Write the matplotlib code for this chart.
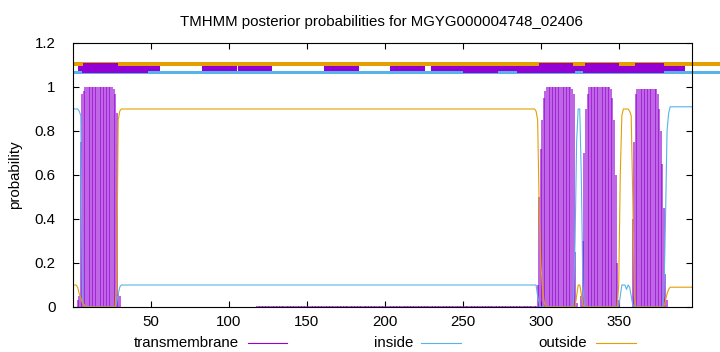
import numpy as np
import matplotlib
matplotlib.use('Agg')
import matplotlib.pyplot as plt

plt.rcParams['font.family'] = ['Liberation Sans', 'DejaVu Sans']

title = 'TMHMM posterior probabilities for MGYG000004748_02406'
seq_len = 397

# posterior probabilities per residue
tm = ([0.0]*2 + [0.03, 0.05, 0.75, 0.97, 0.98] + [1.0]*18
      + [0.99, 0.97, 0.88, 0.06, 0.05] + [0.0]*87 + [0.004]*180
      + [0.1, 0.5, 0.72, 0.85, 0.95, 0.98] + [1.0]*16
      + [0.99, 0.97, 0.25, 0.02, 0.0, 0.0, 0.05]
      + [0.3, 0.7, 0.9, 0.97] + [1.0]*14
      + [0.99, 0.95, 0.85, 0.6, 0.2, 0.03] + [0.0]*8
      + [0.4, 0.75, 0.97] + [0.99]*13
      + [0.97, 0.9, 0.8, 0.65, 0.45, 0.15, 0.03] + [0.0]*16)
inside = ([0.9]*3 + [0.89, 0.87, 0.03, 0.01] + [0.0]*20 + [0.02, 0.06, 0.09]
          + [0.1]*266 + [0.1, 0.05, 0.02, 0.0] + [0.0]*20
          + [0.02, 0.3, 0.75, 0.9, 0.9, 0.6, 0.1, 0.0] + [0.0]*22
          + [0.05, 0.1, 0.1, 0.1, 0.08, 0.1, 0.09, 0.05, 0.01] + [0.0]*19
          + [0.05, 0.4, 0.8, 0.88] + [0.91]*15)
outside = ([0.1]*2 + [0.09, 0.06, 0.04, 0.02, 0.01] + [0.0]*20 + [0.1, 0.85, 0.89]
           + [0.9]*266 + [0.89, 0.85, 0.45, 0.2, 0.1, 0.03] + [0.0]*20
           + [0.05, 0.1, 0.1, 0.06, 0.01] + [0.0]*22
           + [0.1, 0.6, 0.87, 0.9, 0.9, 0.9, 0.9, 0.89, 0.87, 0.5, 0.05]
           + [0.0]*19 + [0.03, 0.06, 0.08] + [0.09]*15)

# topology bars at the top: (start, end) in residues
tm_thick = [(6.4, 28.6), (298.9, 320.7), (328.4, 350.2), (360.4, 379.0)]
tm_thin = [(3.4, 56), (82.9, 105.3), (105.9, 127.8), (161.1, 183.5),
           (203.4, 225.8), (229.7, 392.5)]
tm_lower = [(6, 48.3), (250.2, 272.6), (284.8, 322), (327.1, 379)]
bar_end = 415

purple = '#9400d3'
blue = '#56b4e9'
orange = '#e69f00'

x = np.arange(1, len(tm) + 1)

fig = plt.figure(figsize=(7.2, 3.52), dpi=100)
ax = fig.add_axes([73/720, 1 - 307/352, (692 - 73)/720, (307 - 43)/352])

ax.vlines(x, 0, tm, color=purple, lw=1.15, alpha=0.75)
ax.plot(x, inside, color=blue, lw=0.8)
ax.plot(x, outside, color=orange, lw=0.8)

def bars(segs, y0, h, c):
    ax.broken_barh([(a, b - a) for a, b in segs], (y0, h), facecolor=c,
                   edgecolor='none', clip_on=False)

bars([(0, bar_end)], 1.097, 0.018, orange)
bars([(0, bar_end)], 1.061, 0.013, blue)
bars(tm_lower, 1.062, 0.033, purple)
bars(tm_thin, 1.075, 0.020, purple)
bars(tm_thick, 1.062, 0.049, purple)

fs = 10.8
ax.set_xlim(0, seq_len)
ax.set_ylim(0, 1.2)
ax.set_xticks([50, 100, 150, 200, 250, 300, 350])
ax.set_yticks([0, 0.2, 0.4, 0.6, 0.8, 1, 1.2])
ax.set_yticklabels(['0', '0.2', '0.4', '0.6', '0.8', '1', '1.2'])
ax.tick_params(direction='in', length=4, top=True, right=True, labelsize=fs)
ax.tick_params(axis='x', pad=6)
ax.tick_params(axis='y', pad=12.5)
fig.text(15/720, 1 - 175/352, 'probability', rotation=90, ha='center',
         va='center', fontsize=fs)
fig.text(381/720, 1 - 21.7/352, title, ha='center', va='center', fontsize=fs)

# key below the plot (gnuplot style: label then sample line)
fw, fh = 720, 352
key = [('transmembrane', 239, 248, 287, purple),
       ('inside', 413, 421, 461, blue),
       ('outside', 587, 596, 636, orange)]
for lab, tx, l0, l1, c in key:
    fig.text(tx/fw, 1 - 343/fh, lab, ha='right', va='center', fontsize=fs)
    fig.add_artist(plt.Line2D([l0/fw, l1/fw], [1 - 343/fh]*2, color=c, lw=0.8))

plt.savefig('out.png', dpi=100)
